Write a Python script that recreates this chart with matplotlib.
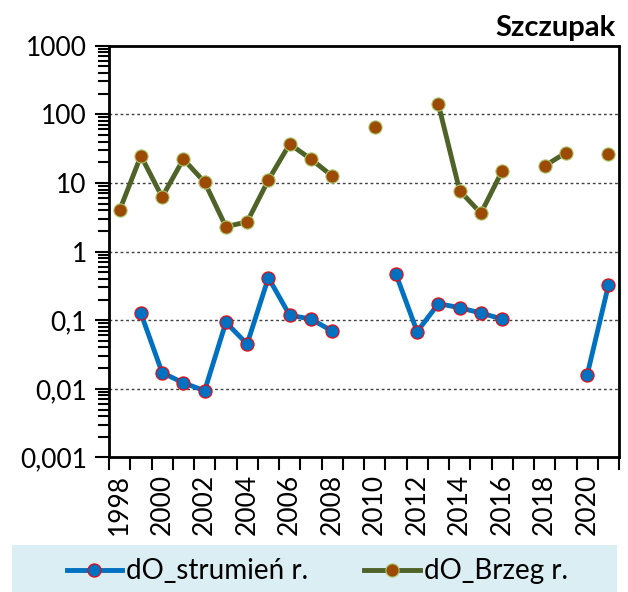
import numpy as np
import matplotlib
matplotlib.use("Agg")
import matplotlib.pyplot as plt
from matplotlib.lines import Line2D
from matplotlib.patches import Rectangle

plt.rcParams['font.family'] = ['Lato', 'DejaVu Sans']

years = list(range(1998, 2022))
nan = np.nan

# dO_strumień r. (blue) and dO_Brzeg r. (olive) per year, gaps where no data
strumien = [nan, 0.126, 0.0172, 0.0122, 0.0094, 0.093, 0.045, 0.416, 0.118, 0.104,
            0.0695, nan, nan, 0.47, 0.068, 0.174, 0.152, 0.127, 0.104, nan,
            nan, nan, 0.0159, 0.322]
brzeg = [4.0, 24.8, 6.2, 22.2, 10.2, 2.3, 2.7, 11.0, 36.8, 22.2,
         12.6, nan, 65.7, nan, nan, 139.0, 7.7, 3.6, 14.9, nan,
         17.6, 27.5, nan, 26.6]

ytick_vals = [0.001, 0.01, 0.1, 1, 10, 100, 1000]
ytick_labels = ['0,001', '0,01', '0,1', '1', '10', '100', '1000']

blue = '#0070C0'
olive = '#4F6228'
brown = '#9C4A06'

fig = plt.figure(figsize=(6.28, 5.92), dpi=100)
ax = fig.add_axes([0.1736, 0.2272, 0.8121, 0.6959])

x = np.arange(len(years))
ax.plot(x, strumien, color=blue, lw=3.5, marker='o', ms=9.5,
        mfc=blue, mec='#FF0000', mew=0.8, solid_capstyle='butt', zorder=3)
ax.plot(x, brzeg, color=olive, lw=3.5, marker='o', ms=9.5,
        mfc=brown, mec='#A9C76A', mew=0.8, solid_capstyle='butt', zorder=3)

ax.set_yscale('log')
ax.set_ylim(0.001, 1000)
ax.set_xlim(-0.5, len(years) - 0.5)

ax.set_yticks(ytick_vals)
ax.set_yticklabels(ytick_labels)
ax.yaxis.set_minor_locator(matplotlib.ticker.LogLocator(base=10, subs=np.arange(2, 10)))
ax.yaxis.set_minor_formatter(matplotlib.ticker.NullFormatter())
ax.tick_params(axis='y', which='major', length=10, width=1.5, labelsize=19, pad=6)
ax.tick_params(axis='y', which='minor', length=8, width=1.5)

# tick marks between years, labels every second year
ax.set_xticks(np.arange(-0.5, len(years), 1.0))
ax.set_xticklabels([])
ax.set_xticks(x[::2], minor=True)
ax.set_xticklabels([str(y) for y in years[::2]], minor=True, rotation=90)
ax.tick_params(axis='x', which='major', length=9, width=1.5)
ax.tick_params(axis='x', which='minor', length=0, labelsize=19, pad=12)

for v in [0.01, 0.1, 1, 10, 100]:
    ax.axhline(v, color='#404040', lw=1, linestyle=(0, (2, 2)), zorder=1)

for s in ax.spines.values():
    s.set_linewidth(2)
    s.set_color('black')

fig.text(0.981, 0.94, 'Szczupak', ha='right', va='baseline',
         fontsize=21, fontweight='bold')

# legend band at the bottom
fig.patches.append(Rectangle((12 / 628, 0), 605 / 628, 47 / 592,
                             transform=fig.transFigure, facecolor='#DAEEF3',
                             edgecolor='none', zorder=0))
handles = [
    Line2D([], [], color=blue, lw=3.5, marker='o', ms=9.5, mfc=blue, mec='#FF0000', mew=0.8),
    Line2D([], [], color=olive, lw=3.5, marker='o', ms=9.5, mfc=brown, mec='#A9C76A', mew=0.8),
]
fig.legend(handles, ['dO_strumień r.', 'dO_Brzeg r.'], loc='center',
           bbox_to_anchor=(0.505, 0.035), ncol=2, frameon=False, fontsize=20,
           handlelength=2.0, handletextpad=0.15, columnspacing=2.0, numpoints=1)

fig.savefig('out.png', dpi=100)
